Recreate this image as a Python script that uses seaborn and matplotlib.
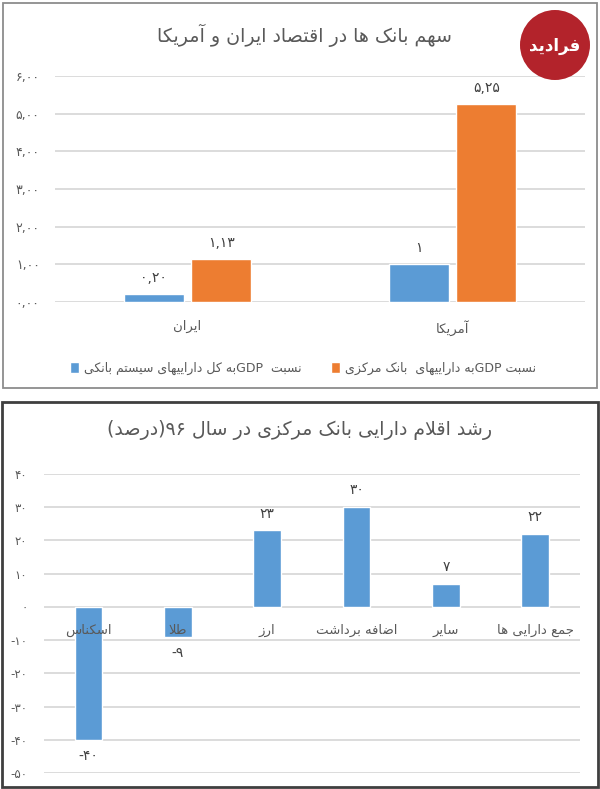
import re
import pandas as pd
import seaborn as sns
import matplotlib.pyplot as plt
import matplotlib.transforms as mtransforms
from matplotlib.patches import Rectangle, Circle

# ---- data ----
countries = ['ایران', 'آمریکا']
series_names = ['نسبت  GDPبه کل داراییهای سیستم بانکی', 'نسبت GDPبه داراییهای  بانک مرکزی']
bank_system = [0.20, 1.00]
central_bank = [1.13, 5.25]
top_title = 'سهم بانک ها در اقتصاد ایران و آمریکا'

items = ['اسکناس', 'طلا', 'ارز', 'اضافه برداشت', 'سایر', 'جمع دارایی ها']
growth = [-40, -9, 23, 30, 7, 22]
bottom_title = 'رشد اقلام دارایی بانک مرکزی در سال ۹۶(درصد)'

blue = '#5b9bd5'
orange = '#ed7d31'
grey_text = '#595959'

# ---- simple persian shaping + rtl ordering (matplotlib has no bidi) ----
FORMS = {  # isolated, final, initial, medial
    'آ': ('\uFE81', '\uFE82', None, None),
    'ا': ('\uFE8D', '\uFE8E', None, None),
    'ب': ('\uFE8F', '\uFE90', '\uFE91', '\uFE92'),
    'ت': ('\uFE95', '\uFE96', '\uFE97', '\uFE98'),
    'ج': ('\uFE9D', '\uFE9E', '\uFE9F', '\uFEA0'),
    'د': ('\uFEA9', '\uFEAA', None, None),
    'ر': ('\uFEAD', '\uFEAE', None, None),
    'ز': ('\uFEAF', '\uFEB0', None, None),
    'س': ('\uFEB1', '\uFEB2', '\uFEB3', '\uFEB4'),
    'ش': ('\uFEB5', '\uFEB6', '\uFEB7', '\uFEB8'),
    'ص': ('\uFEB9', '\uFEBA', '\uFEBB', '\uFEBC'),
    'ض': ('\uFEBD', '\uFEBE', '\uFEBF', '\uFEC0'),
    'ط': ('\uFEC1', '\uFEC2', '\uFEC3', '\uFEC4'),
    'ع': ('\uFEC9', '\uFECA', '\uFECB', '\uFECC'),
    'ف': ('\uFED1', '\uFED2', '\uFED3', '\uFED4'),
    'ق': ('\uFED5', '\uFED6', '\uFED7', '\uFED8'),
    'ل': ('\uFEDD', '\uFEDE', '\uFEDF', '\uFEE0'),
    'م': ('\uFEE1', '\uFEE2', '\uFEE3', '\uFEE4'),
    'ن': ('\uFEE5', '\uFEE6', '\uFEE7', '\uFEE8'),
    'ه': ('\uFEE9', '\uFEEA', '\uFEEB', '\uFEEC'),
    'و': ('\uFEED', '\uFEEE', None, None),
    'ک': ('\uFB8E', '\uFB8F', '\uFB90', '\uFB91'),
    'ی': ('\uFBFC', '\uFBFD', '\uFBFE', '\uFBFF'),
}
MIRROR = str.maketrans('()', ')(')
LTR = r'[A-Za-z0-9\u06F0-\u06F9]+'


def joins_left(ch):
    return ch in FORMS and FORMS[ch][2] is not None


def shape(s):
    out = []
    i = 0
    while i < len(s):
        c = s[i]
        prev = i > 0 and joins_left(s[i - 1])
        if c == 'ل' and i + 1 < len(s) and s[i + 1] == 'ا':
            out.append('\uFEFC' if prev else '\uFEFB')
            i += 2
            continue
        if c not in FORMS:
            out.append(c)
            i += 1
            continue
        nxt = joins_left(c) and i + 1 < len(s) and s[i + 1] in FORMS
        iso, fin, ini, med = FORMS[c]
        if prev and nxt:
            out.append(med)
        elif prev:
            out.append(fin)
        elif nxt:
            out.append(ini)
        else:
            out.append(iso)
        i += 1
    return ''.join(out)


def fa(text):
    parts = re.split('(' + LTR + ')', shape(text))
    out = []
    for p in reversed(parts):
        if re.fullmatch(LTR, p):
            out.append(p)
        else:
            out.append(p[::-1].translate(MIRROR))
    return ''.join(out)


DIGITS = str.maketrans('0123456789', '۰۱۲۳۴۵۶۷۸۹')


def num(v, dec=2):
    if dec == 0:
        s = str(int(abs(v))).translate(DIGITS)
    else:
        s = f'{abs(v):.{dec}f}'.replace('.', ',').translate(DIGITS)
    return '-' + s if v < 0 else s


# ---- figure ----
sns.set_theme(style='white')
plt.rcParams['font.family'] = ['DejaVu Sans']

fig = plt.figure(figsize=(6.0, 7.89), dpi=100)

# panel frames
fig.patches.append(Rectangle((0.005, 0.508), 0.99, 0.488, transform=fig.transFigure,
                             fill=False, edgecolor='#8c8c8c', lw=1.3))
fig.patches.append(Rectangle((0.003, 0.002), 0.994, 0.489, transform=fig.transFigure,
                             fill=False, edgecolor='#3f3f3f', lw=2))

# top chart
ax1 = fig.add_axes([0.0917, 0.6172, 0.8833, 0.2864])
df1 = pd.DataFrame({
    'country': [fa(c) for c in countries] * 2,
    'value': bank_system + central_bank,
    'series': [fa(series_names[0])] * 2 + [fa(series_names[1])] * 2,
})
sns.barplot(data=df1, x='country', y='value', hue='series', palette=[blue, orange],
            width=0.51, gap=0.11, saturation=1, ax=ax1)
ax1.set_xlim(-0.5, 1.5)
ax1.set_ylim(0, 6)
ax1.set_yticks(range(0, 7))
ax1.set_yticklabels([num(t) for t in range(0, 7)])
ax1.yaxis.grid(True, color='#d9d9d9', lw=1.3)
ax1.set_axisbelow(True)
ax1.set_xlabel('')
ax1.set_ylabel('')
sns.despine(ax=ax1, left=True, bottom=True)
ax1.tick_params(axis='y', length=0, pad=11, labelsize=9, labelcolor=grey_text)
ax1.tick_params(axis='x', length=0, pad=13, labelsize=9.5, labelcolor=grey_text)
for cont, vals in zip(ax1.containers, [bank_system, central_bank]):
    ax1.bar_label(cont, labels=[num(v, 0) if v == 1 else num(v) for v in vals],
                  padding=7, fontsize=10, color='#404040')
handles, labels = ax1.get_legend_handles_labels()
ax1.legend(handles, labels, loc='center', bbox_to_anchor=(0.505, 0.533),
           bbox_transform=fig.transFigure, ncol=2, frameon=False, fontsize=9,
           handlelength=0.7, handleheight=0.9, handletextpad=0.4, columnspacing=2.4,
           labelcolor=grey_text)
fig.text(0.507, 0.955, fa(top_title), ha='center', va='center', fontsize=13.7,
         color=grey_text)

# logo
fig.patches.append(Circle((5.55, 7.44), 0.35, transform=fig.dpi_scale_trans,
                          facecolor='#b3232b', edgecolor='none'))
fig.text(5.55, 7.43, fa('فرادید'), transform=fig.dpi_scale_trans, ha='center',
         va='center', fontsize=12, color='white', fontweight='bold')

# bottom chart
ax2 = fig.add_axes([0.0733, 0.0203, 0.8933, 0.379])
sns.barplot(x=list(range(len(items))), y=growth, color=blue, width=0.31,
            saturation=1, ax=ax2)
ax2.set_xlim(-0.5, len(items) - 0.5)
ax2.set_ylim(-50, 40)
ax2.set_yticks(range(-50, 41, 10))
ax2.set_yticklabels([num(t, 0) for t in range(-50, 41, 10)])
ax2.yaxis.grid(True, color='#d9d9d9', lw=1.3)
ax2.set_axisbelow(True)
sns.despine(ax=ax2, left=True, bottom=True)
ax2.set_xticks([])
ax2.tick_params(axis='y', length=0, pad=12, labelsize=8.5, labelcolor=grey_text)
ax2.bar_label(ax2.containers[0], labels=[num(v, 0) for v in growth],
              padding=7, fontsize=10, color='#404040')
# category names sit just under the zero line, on top of the bars
below_zero = mtransforms.offset_copy(ax2.transData, fig=fig, y=-12, units='points')
for i, name in enumerate(items):
    ax2.text(i, 0, fa(name), transform=below_zero, ha='center', va='top',
             fontsize=9.5, color=grey_text, zorder=5)
fig.text(0.5, 0.455, fa(bottom_title), ha='center', va='center', fontsize=13.7,
         color=grey_text)

fig.savefig('out.png', dpi=100)
